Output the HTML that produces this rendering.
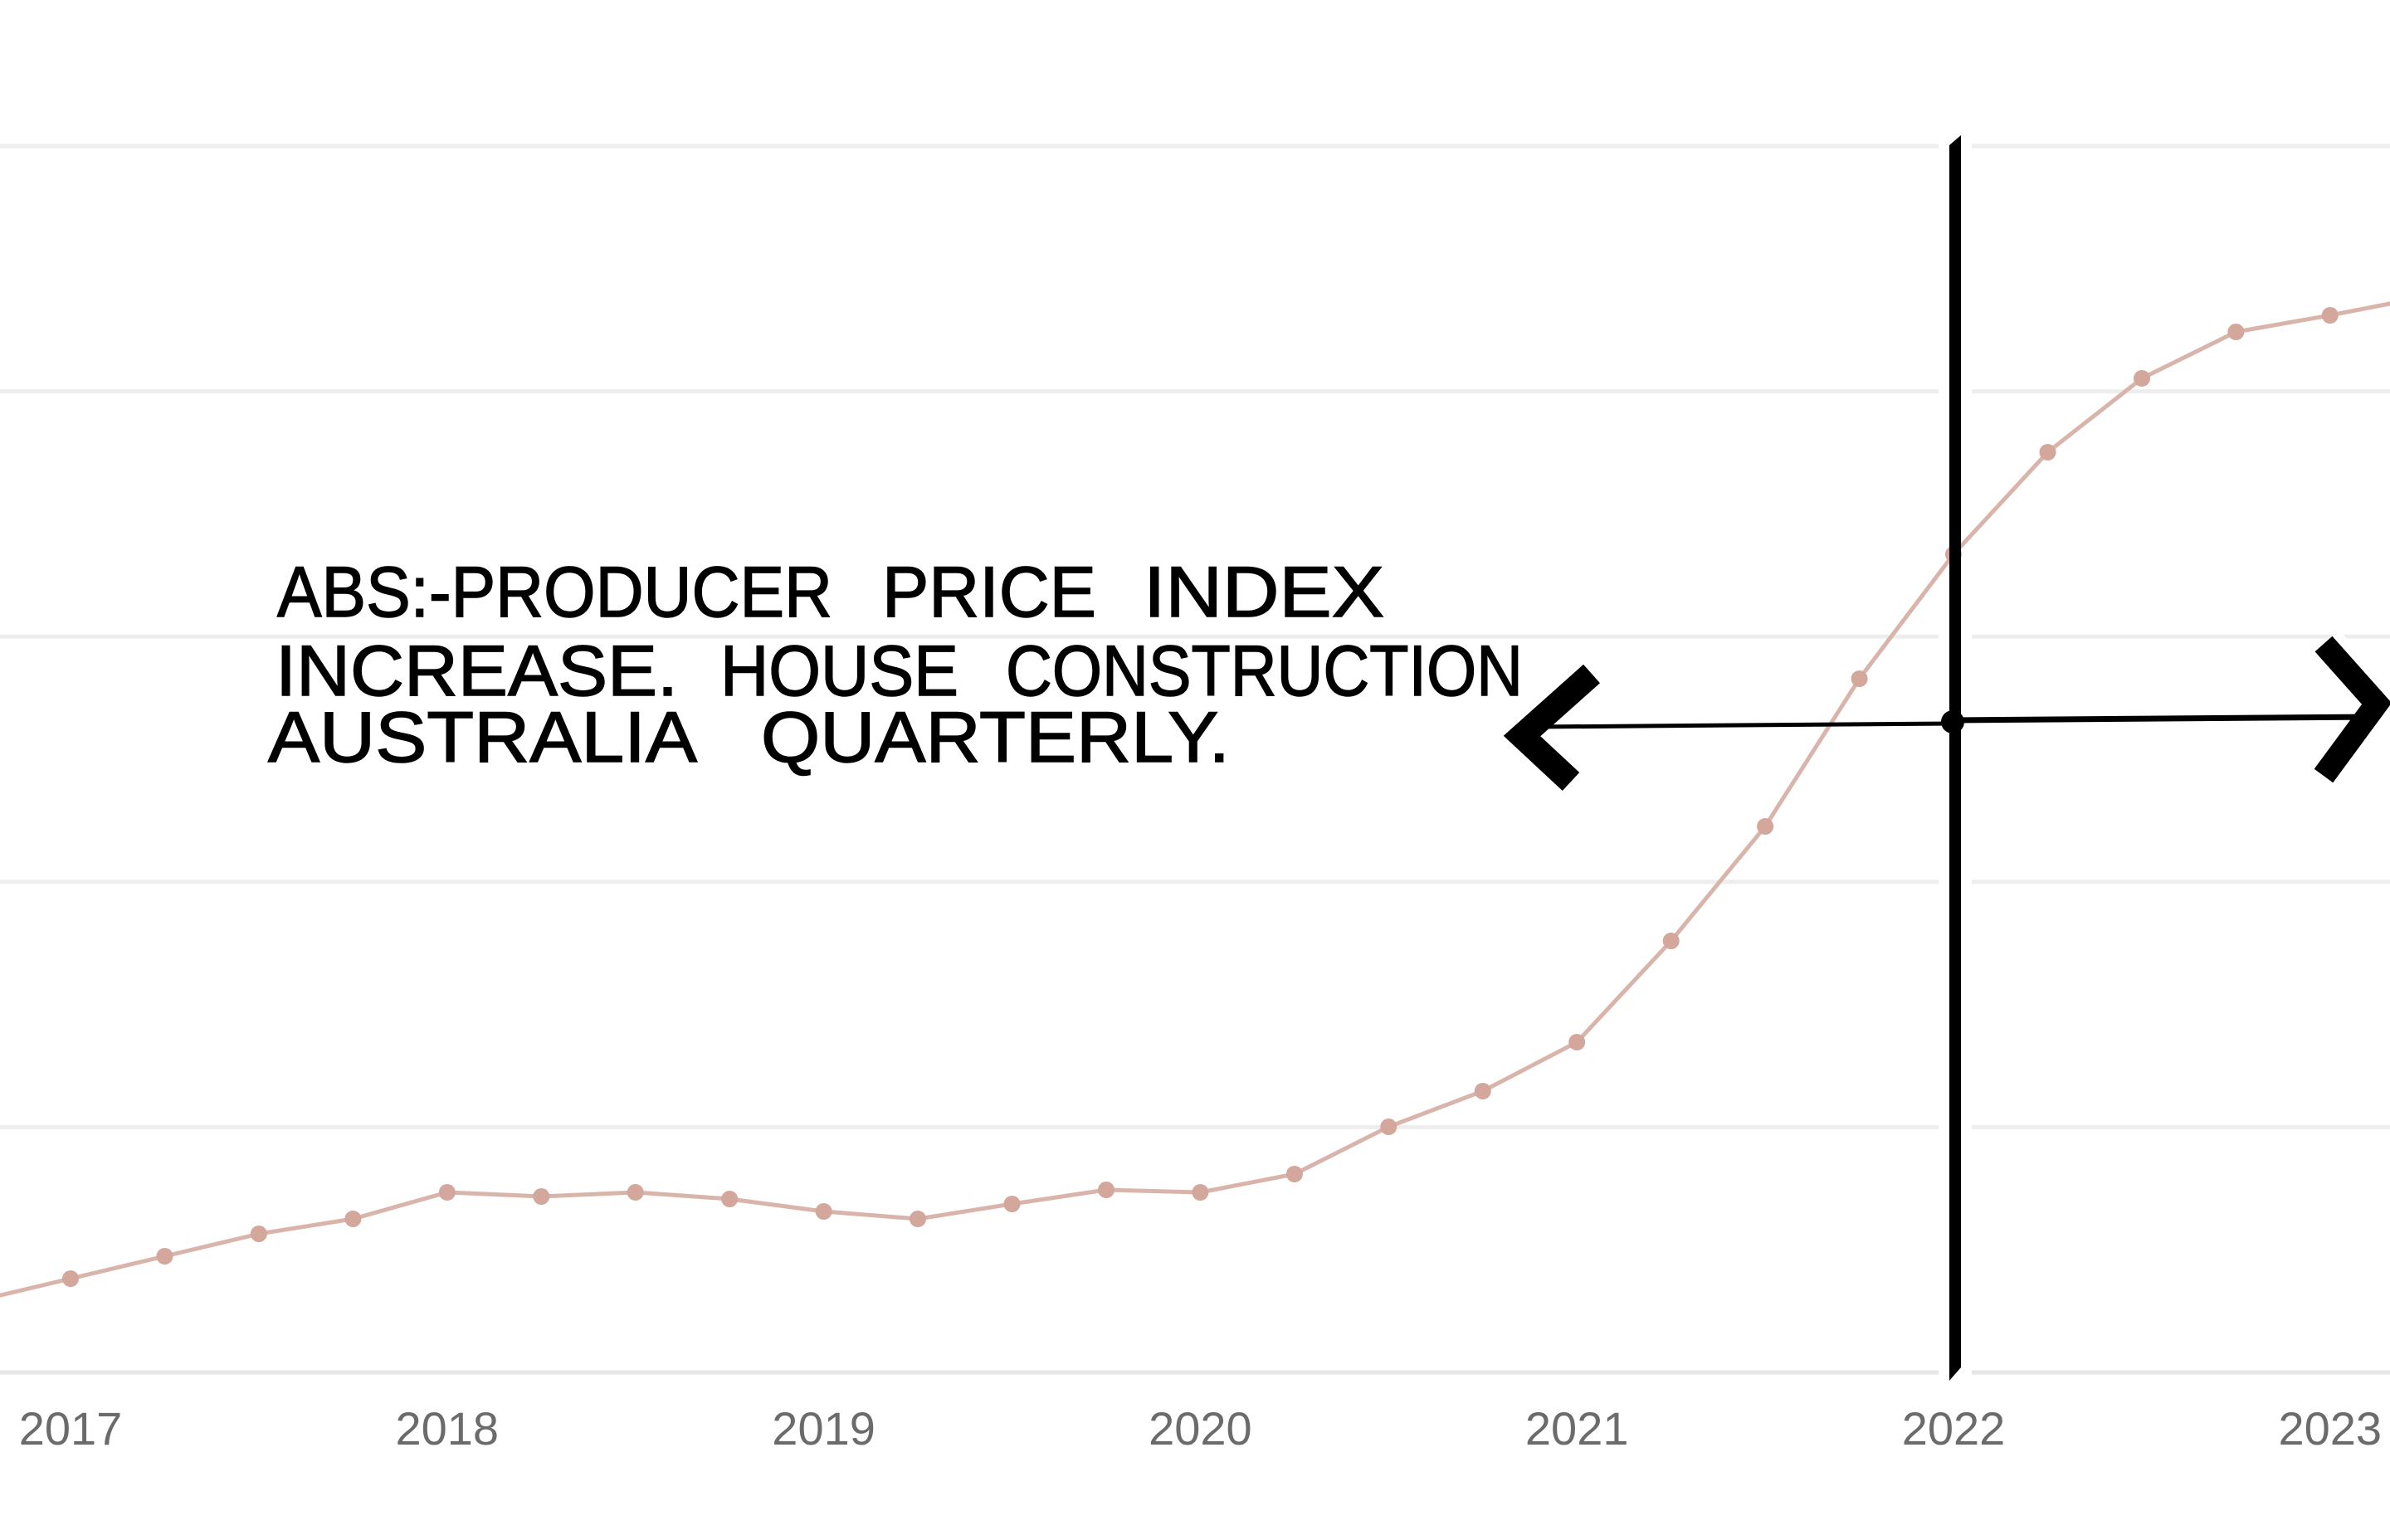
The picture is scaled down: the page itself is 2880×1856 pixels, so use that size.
<!DOCTYPE html>
<html>
<head>
<meta charset="utf-8">
<style>
  html, body { margin: 0; padding: 0; background: #ffffff; }
  body { width: 2880px; height: 1856px; overflow: hidden; }
  svg { display: block; }
</style>
</head>
<body>
<svg width="2880" height="1856" viewBox="0 0 2880 1856" xmlns="http://www.w3.org/2000/svg">
  <rect x="0" y="0" width="2880" height="1856" fill="#ffffff"/>

  <!-- gridlines -->
  <g stroke="#eeeeee" stroke-width="5">
    <line x1="0" y1="176" x2="2880" y2="176"/>
    <line x1="0" y1="471.6" x2="2880" y2="471.6"/>
    <line x1="0" y1="767.2" x2="2880" y2="767.2"/>
    <line x1="0" y1="1062.8" x2="2880" y2="1062.8"/>
    <line x1="0" y1="1358.4" x2="2880" y2="1358.4"/>
  </g>
  <line x1="0" y1="1654" x2="2880" y2="1654" stroke="#e6e6e6" stroke-width="5"/>

  <!-- white halos of the annotation drawing -->
  <rect x="2336" y="158" width="40" height="1512" fill="#ffffff"/>
  <polyline points="2800,776 2864,848 2800,935" fill="none" stroke="#ffffff" stroke-width="50" stroke-linejoin="round"/>
  <polyline points="1918,812 1834,887 1893,942" fill="none" stroke="#ffffff" stroke-width="50" stroke-linejoin="round"/>

  <!-- tick labels -->
  <g font-family="'Liberation Sans', sans-serif" font-size="56" fill="#6b6b6b" text-anchor="middle">
    <text x="85" y="1741">2017</text>
    <text x="538.8" y="1741">2018</text>
    <text x="992.6" y="1741">2019</text>
    <text x="1446.4" y="1741">2020</text>
    <text x="1900.2" y="1741">2021</text>
    <text x="2354" y="1741">2022</text>
    <text x="2807.8" y="1741">2023</text>
  </g>

  <!-- data series -->
  <polyline fill="none" stroke="#d9b4ab" stroke-width="5" stroke-linejoin="round"
    points="-28.4,1568 85,1541 198.5,1514 311.9,1487 425.4,1469 538.8,1437 652.3,1442 765.7,1437 879.2,1445 992.6,1460 1106,1469 1219.5,1451 1333,1434 1446.4,1437 1559.9,1415 1673.3,1358 1786.8,1315 1900.2,1256 2013.7,1134 2127.1,996 2240.6,818 2354,668 2467.5,545 2581,456 2694.4,400 2807.8,380 2921,358"/>
  <g fill="#d3a79c">
    <circle cx="85" cy="1541" r="10"/>
    <circle cx="198.5" cy="1514" r="10"/>
    <circle cx="311.9" cy="1487" r="10"/>
    <circle cx="425.4" cy="1469" r="10"/>
    <circle cx="538.8" cy="1437" r="10"/>
    <circle cx="652.3" cy="1442" r="10"/>
    <circle cx="765.7" cy="1437" r="10"/>
    <circle cx="879.2" cy="1445" r="10"/>
    <circle cx="992.6" cy="1460" r="10"/>
    <circle cx="1106" cy="1469" r="10"/>
    <circle cx="1219.5" cy="1451" r="10"/>
    <circle cx="1333" cy="1434" r="10"/>
    <circle cx="1446.4" cy="1437" r="10"/>
    <circle cx="1559.9" cy="1415" r="10"/>
    <circle cx="1673.3" cy="1358" r="10"/>
    <circle cx="1786.8" cy="1315" r="10"/>
    <circle cx="1900.2" cy="1256" r="10"/>
    <circle cx="2013.7" cy="1134" r="10"/>
    <circle cx="2127.1" cy="996" r="10"/>
    <circle cx="2240.6" cy="818" r="10"/>
    <circle cx="2354" cy="668" r="10"/>
    <circle cx="2467.5" cy="545" r="10"/>
    <circle cx="2581" cy="456" r="10"/>
    <circle cx="2694.4" cy="400" r="10"/>
    <circle cx="2807.8" cy="380" r="10"/>
  </g>

  <!-- annotation: vertical line -->
  <polygon points="2349,175 2363,163 2363,1648 2349,1664" fill="#000000"/>

  <!-- annotation: horizontal arrows -->
  <line x1="1850" y1="876" x2="2353" y2="872" stroke="#000" stroke-width="5"/>
  <line x1="2353" y1="868" x2="2862" y2="864" stroke="#000" stroke-width="7"/>
  <circle cx="2353" cy="870" r="14" fill="#000"/>
  <polyline points="1918,812 1834,887 1893,942" fill="none" stroke="#000" stroke-width="30" stroke-linejoin="miter" stroke-miterlimit="3"/>
  <polyline points="2800,776 2864,848 2800,935" fill="none" stroke="#000" stroke-width="28" stroke-linejoin="miter" stroke-miterlimit="3"/>

  <!-- annotation text -->
  <g font-family="'Liberation Sans', sans-serif" font-size="86" fill="#000" stroke="#000" stroke-width="1.5">
    <text x="334" y="743" textLength="669" lengthAdjust="spacingAndGlyphs">ABS:-PRODUCER</text>
    <text x="1063" y="743" textLength="258" lengthAdjust="spacingAndGlyphs">PRICE</text>
    <text x="1378" y="743" textLength="290" lengthAdjust="spacingAndGlyphs">INDEX</text>

    <text x="332" y="838" textLength="485" lengthAdjust="spacingAndGlyphs">INCREASE.</text>
    <text x="868" y="838" textLength="287" lengthAdjust="spacingAndGlyphs">HOUSE</text>
    <text x="1212" y="838" textLength="623" lengthAdjust="spacingAndGlyphs">CONSTRUCTION</text>

    <text x="323" y="918" textLength="517" lengthAdjust="spacingAndGlyphs">AUSTRALIA</text>
    <text x="917" y="918" textLength="565" lengthAdjust="spacingAndGlyphs">QUARTERLY.</text>
  </g>
</svg>
</body>
</html>
